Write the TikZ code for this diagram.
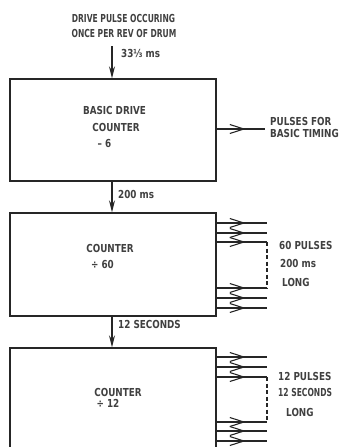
\documentclass[tikz,border=0pt]{standalone}
\usepackage{fontspec}
\setmainfont{DejaVu Sans}[FakeStretch=0.8]
\usetikzlibrary{arrows.meta,decorations.markings}
\begin{document}
\begin{tikzpicture}[x=1pt,y=-1pt,
  lbl/.style={inner sep=0pt,font=\fontsize{11}{13}\selectfont\bfseries,text=black!75},
  narrow/.style={xscale=0.86,transform shape},
  blk/.style={draw,line width=1.3pt,inner sep=0pt,black!85},
  feed/.style={line width=1.3pt,black!85,-{Stealth[length=12pt,width=6pt]}},
  outp/.style={line width=1.1pt,black!85,postaction={decorate},decoration={markings,
     mark=at position 29pt with {\arrow{Straight Barb[length=14pt,width=9pt,line width=1.1pt]}}}},
  dashy/.style={line width=1.1pt,black!85,dash pattern=on 4pt off 2.5pt}]
\useasboundingbox (0,0) rectangle (340,447);
\clip (0,0) rectangle (340,447);
% boxes
\node[blk,minimum width=206pt,minimum height=102pt] (b1) at (113,130) {};
\node[blk,minimum width=206pt,minimum height=103pt] (b2) at (113,264.5) {};
\node[blk,minimum width=206pt,minimum height=140pt] (b3) at (113,418) {};
% top input
\node[lbl,narrow] (t1) at (123.5,18) {DRIVE PULSE OCCURING};
\node[lbl,narrow] (t2) at (124,33) {ONCE PER REV OF DRUM};
\coordinate (in) at (112,46);
\draw[feed] (in) -- (in |- b1.north);
\node[lbl,anchor=west] (l1) at (121,53) {33⅓ ms};
% box texts
\node[lbl] (b1a) at (114.5,110) {BASIC DRIVE};
\node[lbl] (b1b) at (116,127) {COUNTER};
\node[lbl] (b1c) at (104.5,143) {– 6};
\node[lbl] (b2a) at (110,248) {COUNTER};
\node[lbl] (b2b) at (102.5,264) {÷ 60};
\node[lbl] (b3a) at (118,392) {COUNTER};
\node[lbl] (b3b) at (108,403) {÷ 12};
% vertical links
\draw[feed] (b1.south -| in) -- (b2.north -| in);
\node[lbl,anchor=west] (l2) at (118,194) {200 ms};
\draw[feed] (b2.south -| in) -- (b3.north -| in);
\node[lbl,anchor=west] (l3) at (118,324) {12 SECONDS};
% box1 output
\coordinate (o1) at (265,129);
\draw[outp] (b1.east |- o1) -- (o1);
\node[lbl,anchor=west] (p1) at (270,121) {PULSES FOR};
\node[lbl,anchor=west] (p2) at (270,133) {BASIC TIMING};
% box2 outputs
\foreach \y/\n in {223/a,233/b,242/c,288/d,298/e,308/f}{
  \coordinate (q\n) at (267,\y);
  \draw[outp] (b2.east |- q\n) -- (q\n);
}
\draw[dashy] (qc) -- (qd);
\node[lbl,anchor=west] (p3) at (279,245) {60 PULSES};
\node[lbl,anchor=west] (p4) at (280,263) {200 ms};
\node[lbl,anchor=west] (p5) at (282,282) {LONG};
% box3 outputs
\foreach \y/\n in {357/a,367/b,377/c,422/d,431/e,441/f}{
  \coordinate (r\n) at (267,\y);
  \draw[outp] (b3.east |- r\n) -- (r\n);
}
\draw[dashy] (rc) -- (rd);
\node[lbl,anchor=west] (p6) at (278,376) {12 PULSES};
\node[lbl,anchor=west,narrow] (p7) at (278,392) {12 SECONDS};
\node[lbl,anchor=west] (p8) at (286,412) {LONG};
\end{tikzpicture}
\end{document}
